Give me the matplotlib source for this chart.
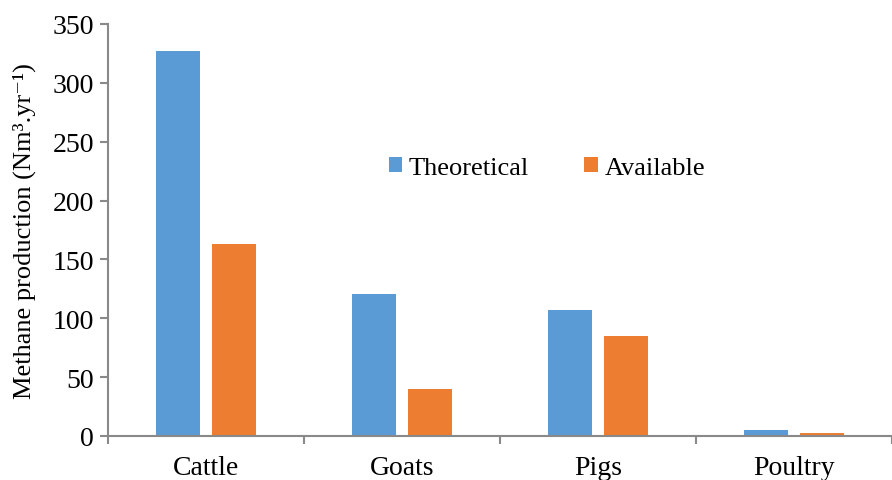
import matplotlib
matplotlib.use("Agg")
import matplotlib.pyplot as plt
import numpy as np

categories = ["Cattle", "Goats", "Pigs", "Poultry"]
theoretical = [327, 120.5, 107, 5]
available = [163, 40, 85, 2.5]

plt.rcParams['font.family'] = ['Liberation Serif', 'DejaVu Serif']

fig = plt.figure(figsize=(8.92, 4.81), dpi=100)
ax = fig.add_axes([108/892, (481-437)/481, (892-108)/892, (437-25)/481])

x = np.arange(len(categories))
w = 0.225
off = 0.1425
ax.bar(x - off, theoretical, w, color='#5B9BD5', label='Theoretical')
ax.bar(x + off, available, w, color='#ED7D31', label='Available')

ax.set_xlim(-0.5, len(categories) - 0.5)
ax.set_ylim(0, 350)
ax.set_yticks(np.arange(0, 351, 50))
ax.set_xticks(x)
ax.set_xticklabels(categories)
ax.set_xticks(np.arange(-0.5, len(categories), 1), minor=True)

for s in ['top', 'right']:
    ax.spines[s].set_visible(False)
for s in ['left', 'bottom']:
    ax.spines[s].set_color('#898989')
    ax.spines[s].set_linewidth(1.5)

ax.tick_params(axis='y', length=6, width=1.5, color='#898989', labelsize=20, pad=4)
ax.tick_params(axis='x', which='major', length=0, labelsize=20, pad=14)
ax.tick_params(axis='x', which='minor', length=6, width=1.5, color='#898989')

ax.set_ylabel('Methane production (Nm³.yr⁻¹)', fontsize=19, labelpad=12)

leg = ax.legend(loc='center left', bbox_to_anchor=(389/892, (481-169)/481),
                bbox_transform=fig.transFigure, ncol=2, frameon=False,
                fontsize=19, handlelength=0.5, handleheight=0.5, columnspacing=2.1,
                handletextpad=0.25, borderpad=0, borderaxespad=0)

fig.savefig('out.png', dpi=100)
